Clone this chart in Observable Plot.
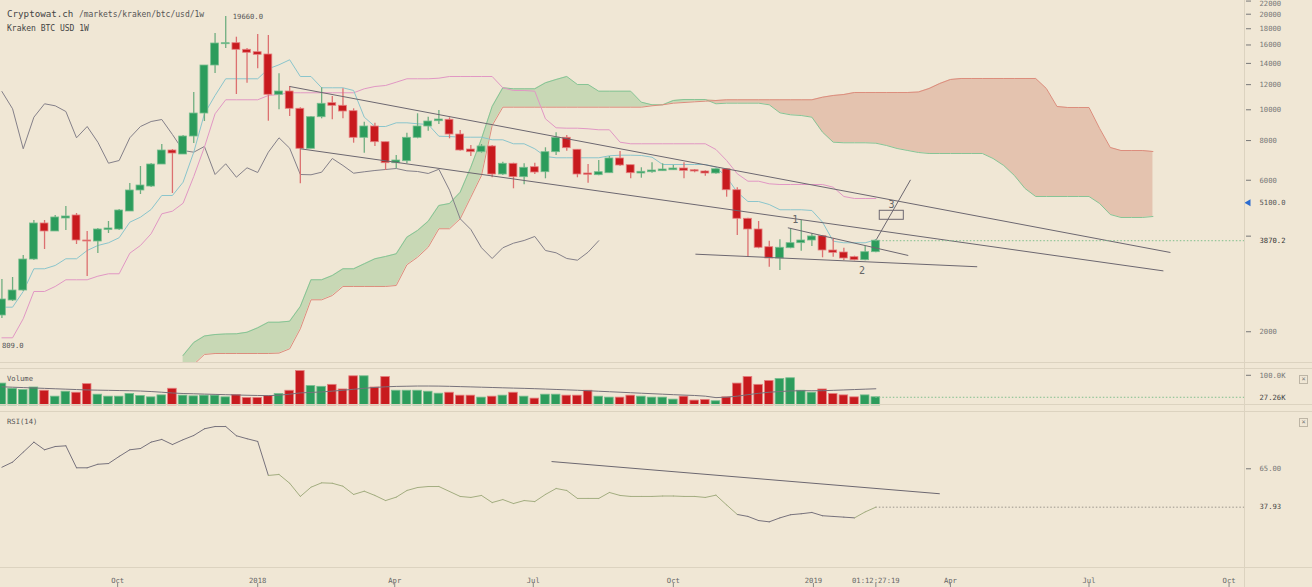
<!DOCTYPE html>
<html>
<head>
<meta charset="utf-8">
<script src="https://cdn.jsdelivr.net/npm/d3@7"></script>
<script src="https://cdn.jsdelivr.net/npm/@observablehq/plot@0.6"></script>
<style>
  html, body { margin: 0; padding: 0; background: #f0e7d5; }
  #chart { position: relative; width: 1312px; height: 587px; overflow: hidden; background: #f0e7d5;
           font-family: "DejaVu Sans Mono", "Liberation Mono", monospace; }
  #chart svg { position: absolute; left: 0; }
  .hl { position: absolute; left: 0; width: 1312px; height: 1px; background: #dcd3c0; }
  .vl { position: absolute; top: 0; left: 1244px; width: 1px; height: 587px; background: #dcd3c0; }
  .lbl { position: absolute; white-space: nowrap; color: #555; }
  .xbox { position: absolute; left: 1299px; width: 7px; height: 7px; border: 1px solid #bdb5a5;
          font-size: 7px; line-height: 7px; text-align: center; color: #777; }
</style>
</head>
<body>
<div id="chart">
  <div class="lbl" style="left:7px;top:8px;font-size:9.2px;color:#444;">Cryptowat.ch <span style="font-size:8px;color:#555;">/markets/kraken/btc/usd/1w</span></div>
  <div class="lbl" style="left:7px;top:24px;font-size:8px;color:#444;">Kraken BTC USD 1W</div>
  <div class="lbl" style="left:7px;top:374px;font-size:7.2px;">Volume</div>
  <div class="lbl" style="left:7px;top:417px;font-size:7.2px;">RSI(14)</div>
  <div class="xbox" style="top:375px;">×</div>
  <div class="xbox" style="top:418px;">×</div>
</div>
<script>
// ---------- data (Kraken BTC/USD, weekly candles) ----------
const firstWeek = "2017-07-17";
const open  = [2250,2509,2697,3377,4385,4138,4547,4647,3876,3848,4183,4198,4783,5570,5733,6725,7444,7231,8239,9734,13787,16092,16208,15451,15184,14933,11149,11419,10073,7537,9477,10491,10295,9898,8162,8859,7906,6789,6888,8162,8859,9206,9301,8359,7498,7353,7664,6255,6760,6134,6595,6360,7353,8162,7483,6301,6224,6314,7025,6691,6301,6360,6407,6451,6533,6451,6392,6301,6497,5581,4537,4198,3692,3402,3666,3801,3876,3999,3605,3553,3434,3360,3561];
const high  = [2921,2964,3477,4481,4481,4647,4960,4714,4138,4229,4449,4853,5859,6628,6774,7775,7498,8299,11337,13787,17389,19660,16929,15597,17263,17139,12983,11841,10147,9525,11730,11013,11645,10073,9140,9075,7906,7179,8438,9714,9477,9948,9436,8605,7719,7775,7719,6838,6789,6760,6789,7592,8463,8299,7483,6725,6923,7127,7390,6691,6567,6808,6760,6691,6808,6486,6425,6519,6519,5680,4557,4449,3856,3896,4220,4481,4070,4020,3925,3666,3459,3711,3896];
const low   = [2202,2491,2678,3353,3631,4138,4168,3765,2985,3527,4078,4168,4783,5411,5692,6725,5450,7231,7832,9186,13011,15597,11174,12127,13462,9206,10000,9525,5847,7537,9366,9301,9366,7849,7299,7664,6439,6519,6760,8103,8562,8989,8103,7406,7127,7299,6108,6210,5639,5805,6255,6063,7179,7406,6108,5872,6197,6314,6628,6063,6090,6314,6407,6451,6063,6332,6178,6269,5306,4020,3434,3650,3194,3118,3650,3587,3711,3419,3434,3353,3346,3346,3545];
const close = [2527,2697,3377,4385,4138,4580,4613,3876,3848,4198,4229,4818,5570,5775,6725,7444,7284,8239,9734,13787,16173,16208,15451,15118,14899,11149,11419,10073,7537,9477,10445,10295,9876,8162,8859,7906,6789,6923,8162,8859,9186,9320,8359,7444,7353,7664,6255,6760,6134,6567,6346,7353,8162,7570,6255,6242,6360,7025,6677,6314,6379,6439,6486,6533,6425,6392,6301,6497,5581,4537,4198,3677,3402,3677,3801,3876,3991,3605,3545,3402,3360,3561,3870.2];
const volumeK = [72.6,55.4,51.1,59.6,48.9,29.3,45.6,42.3,70.7,35.8,29.3,29.3,38.1,31.6,27.0,33.5,55.4,32.6,30.3,32.6,32.6,27.0,34.9,25.1,25.1,31.6,38.1,48.9,114,64.2,61.9,68.4,53.1,96.7,96.7,59.6,94.5,48.9,48.9,48.9,45.6,39.1,42.3,32.6,32.6,26.1,29.3,32.6,42.3,29.3,22.8,35.8,35.8,32.6,32.6,48.9,29.3,26.1,26.1,32.6,29.3,26.1,26.1,19.5,29.3,16.3,18.6,14.0,27.0,72.6,94.5,68.4,81.4,87.9,90.2,48.9,42.3,53.1,38.1,33.5,27.0,33.5,27.26];
const volumeMA = [61.9,60.6,59.3,58.0,56.7,55.4,54.1,52.8,51.5,50.8,50.2,49.5,48.9,47.9,46.2,44.0,41.4,39.7,38.8,37.8,36.8,35.8,34.9,33.9,33.2,32.6,34.2,37.5,41.7,43.3,44.9,47.6,50.5,53.7,57.0,59.9,61.9,63.2,63.8,64.5,64.5,64.2,63.5,62.5,61.6,60.6,59.6,58.6,57.6,56.7,55.7,54.4,53.1,51.8,50.5,48.9,47.2,45.6,44.0,42.3,40.7,39.1,37.5,35.8,34.5,33.2,30.9,26.1,27.7,30.9,35.8,40.4,44.0,46.2,48.2,48.9,48.9,48.9,50.2,51.5,52.8,54.1,55.4];
const tenkan = [2390,2390,2678,3157,3157,3234,3395,3395,3605,3738,3812,3954,4426,4590,4853,5372,5372,5915,7353,9714,11093,12521,12521,12521,12521,13462,13858,14371,12731,12731,11730,11730,11730,11502,9477,8859,8859,9100,9100,9035,8989,8256,8239,8197,8197,8197,8044,8044,7815,7815,7537,7127,7061,7061,7061,7061,7061,7164,7195,7195,7179,7091,6725,6725,6725,6725,6725,6595,6134,5502,5143,5143,5032,4843,4843,4843,4818,4426,3856,3812,3812,3812,3896];
const kijun = [1914,1914,2197,2678,2678,2777,2915,2915,2915,2992,3045,3045,3535,3738,4070,4704,4794,5079,6165,7625,9714,10753,10753,10753,10753,11093,11174,11312,11312,11312,11312,11312,11312,11312,11645,11841,11927,12216,12521,12521,12521,12576,12731,12731,12731,12731,12731,11730,11502,11502,11444,9366,8777,8751,8751,8713,8650,8650,7906,7815,7815,7815,7815,7815,7815,7815,7815,7498,6923,6287,5958,5958,5847,5817,5817,5817,5817,5817,5704,5333,5256,5256,5256];
// Senkou spans, plotted from week index 17 to 108 (shifted 26 weeks ahead)
const senkouStartWeek = 17;
const senkouA = [1684,1850,1939,1960,1968,1970,1993,2058,2143,2143,2159,2402,2915,2915,3007,3157,3157,3274,3395,3452,3520,3971,4168,4458,4996,5069,5502,6595,8103,10242,11730,11645,11645,11645,12162,12458,12731,12014,12014,11444,11444,11444,11444,10566,10369,10369,10697,10776,10776,10776,10445,10491,10491,10491,10491,10369,9783,9643,9594,9477,8500,7906,7872,7872,7872,7849,7719,7553,7444,7337,7284,7284,7284,7284,7284,7284,7025,6677,6210,5651,5333,5333,5333,5333,5333,5333,5069,4680,4580,4580,4580,4613];
const senkouB = [1425,1578,1696,1708,1708,1708,1708,1708,1708,1713,1767,2043,2521,2521,2601,2777,2777,2777,2777,2777,2797,3250,3434,3692,4220,4220,4537,5306,6210,8924,10190,10190,10190,10190,10190,10190,10190,10190,10190,10190,10190,10190,10190,10190,10295,10369,10491,10543,10597,10643,10697,10753,10753,10753,10753,10753,10753,10753,10753,10753,10957,11093,11174,11337,11337,11337,11337,11337,11337,11378,11671,12101,12458,12548,12548,12548,12548,12548,12548,12548,12548,11671,10242,10168,10168,10168,8732,7608,7444,7444,7444,7390];
const chikouShift = 26;
const rsi = [66.1,69.7,76.7,83.8,78.4,80.7,81.2,65.7,65.7,68.2,68.7,73.7,78.4,79.3,83.8,85.7,82.1,85.5,88.5,93.2,94.8,94.8,88.3,86.2,84.3,60.3,61.0,54.8,45.5,52.0,55.1,54.8,52.7,46.9,49.2,46.2,42.6,45.0,49.7,51.8,52.5,52.5,49.0,45.5,44.8,46.2,41.2,43.3,40.5,42.6,41.9,46.9,51.1,49.7,44.1,44.1,44.1,48.3,46.2,45.5,45.5,45.5,45.8,45.8,45.5,45.5,44.8,46.4,39.5,32.8,31.4,28.5,27.6,30.4,32.6,33.3,34.2,31.9,31.4,30.9,30.4,34.6,37.93];

// axis ticks and labels
const priceTicks = [2000,4000,6000,8000,10000,12000,14000,16000,18000,20000,22000];
const hiddenPriceLabels = [4000, 22000];
const topPriceLabel = 22000;
const timeTicks = [["2017-10-01","Oct"],["2018-01-01","2018"],["2018-04-01","Apr"],["2018-07-01","Jul"],["2018-10-01","Oct"],["2019-01-01","2019"],["2019-04-01","Apr"],["2019-07-01","Jul"],["2019-10-01","Oct"]];
const countdown = "01:12:27:19";
const athLabel = {price: 19660, text: "19660.0"};
const lowLabel = {price: 1809, text: "809.0"};
const alertPrice = 5100.0;
const lastPrice = 3870.2;
const lastVolumeK = 27.26;
const lastRsi = 37.93;

// drawn trendlines (date, price)
const trendLines = [
  {d1: "2018-01-22", p1: 11841, d2: "2019-08-23T12:00Z", p2: 3553},
  {d1: "2018-01-29", p1: 7537,  d2: "2019-08-18T21:00Z", p2: 3109},
  {d1: "2018-10-15T12:00Z", p1: 3510, d2: "2019-04-18T14:00Z", p2: 3204},
  {d1: "2018-12-15T05:00Z", p1: 4250, d2: "2019-03-04T07:00Z", p2: 3477},
  {d1: "2019-02-11T09:00Z", p1: 3904, d2: "2019-03-05T19:00Z", p2: 6018}
];
const targetBox = {d1: "2019-02-13T14:00Z", d2: "2019-03-01T09:00Z", p1: 4504, p2: 4808};
const waveLabels = [
  {d: "2018-12-20", p: 4504, t: "1"},
  {d: "2019-02-02", p: 3118, t: "2"},
  {d: "2019-02-21T07:00Z", p: 5021, t: "3"}
];
const rsiTrend = {d1: "2018-07-13", v1: 70.1, d2: "2019-03-25", v2: 47.4};

// ---------- build ----------
const W = 1312, MR = 67;
const FONT = '"DejaVu Sans Mono", "Liberation Mono", monospace';
const xDomain = [new Date("2017-07-16T01:40:00Z"), new Date("2019-10-11T19:12:00Z")];
const week0 = new Date(firstWeek + "T00:00:00Z");
const weekDate = i => d3.utcDay.offset(week0, 7 * i);
const D = s => new Date(s.length === 10 ? s + "T00:00:00Z" : s);

const candles = open.map((o, i) => ({
  date: weekDate(i), open: o, high: high[i], low: low[i], close: close[i],
  vol: volumeK[i], ma: volumeMA[i], rsi: rsi[i], up: close[i] >= o
}));
const ups = candles.filter(d => d.up), downs = candles.filter(d => !d.up);
const lastDate = candles[candles.length - 1].date;
const cloud = senkouA.map((a, k) => ({date: weekDate(senkouStartWeek + k), a, b: senkouB[k]}));
const chikou = close.slice(chikouShift).map((c, j) => ({date: weekDate(j), c}));

const GREEN = "#2c9c5c", GREEN_L = "#78bd8f", GREEN_W = "#6fae80";
const RED = "#c81a1e", RED_L = "#e57f7f", RED_W = "#dc7070";
const TREND = "#6c6770";

const hx = h => d => d3.utcHour.offset(d.date, h);
const style = {background: "transparent", fontFamily: FONT, fontSize: "7.2px", color: "#777", overflow: "visible"};
const xScale = {type: "utc", domain: xDomain, axis: null};

const chart = document.getElementById("chart");
function place(svg, top) { svg.style.top = top + "px"; chart.appendChild(svg); }

// price panel
const price = Plot.plot({
  width: W, height: 363, marginLeft: 0, marginRight: MR, marginTop: 0, marginBottom: 0,
  style, x: xScale,
  y: {type: "log", domain: [1588.6, 22090], axis: "right", ticks: priceTicks,
      tickFormat: d => hiddenPriceLabels.includes(d) ? "" : String(d), tickSize: 5, tickPadding: 9, label: null},
  marks: [
    Plot.areaY(cloud, {x: "date", y1: "b", y2: d => Math.max(d.a, d.b), fill: "#c8d8b5", clip: true}),
    Plot.areaY(cloud, {x: "date", y1: "a", y2: d => Math.max(d.a, d.b), fill: "#e4c3af", clip: true}),
    Plot.line(cloud, {x: "date", y: "a", stroke: "#86c495", strokeWidth: 1, clip: true}),
    Plot.line(cloud, {x: "date", y: "b", stroke: "#dc8d7d", strokeWidth: 1, clip: true}),
    Plot.line(chikou, {x: "date", y: "c", stroke: "#848089", strokeWidth: 1}),
    Plot.line(candles, {x: "date", y: (d, i) => kijun[i], stroke: "#e197c4", strokeWidth: 1}),
    Plot.line(candles, {x: "date", y: (d, i) => tenkan[i], stroke: "#8ac5cc", strokeWidth: 1}),
    Plot.ruleX(ups, {x: "date", y1: "low", y2: "high", stroke: GREEN_W, strokeWidth: 1.3}),
    Plot.ruleX(downs, {x: "date", y1: "low", y2: "high", stroke: RED_W, strokeWidth: 1.3}),
    Plot.rect(ups, {x1: hx(-62), x2: hx(62), y1: "open", y2: "close", fill: GREEN, stroke: GREEN_L, strokeWidth: 0.8}),
    Plot.rect(downs, {x1: hx(-62), x2: hx(62), y1: "open", y2: "close", fill: RED, stroke: RED_L, strokeWidth: 0.8}),
    Plot.link(trendLines, {x1: d => D(d.d1), y1: "p1", x2: d => D(d.d2), y2: "p2", stroke: TREND, strokeWidth: 1}),
    Plot.rect([targetBox], {x1: d => D(d.d1), x2: d => D(d.d2), y1: "p1", y2: "p2", fill: "none", stroke: TREND, strokeWidth: 1}),
    Plot.text(waveLabels, {x: d => D(d.d), y: "p", text: "t", fill: "#666", fontSize: 10}),
    Plot.ruleY([lastPrice], {x1: lastDate, x2: xDomain[1], y: d => d, stroke: "#7fbe8c", strokeDasharray: "1.5,2"}),
    Plot.text([athLabel], {x: () => candles[21].date, y: "price", text: "text", dx: 7, textAnchor: "start", fill: "#555"}),
    Plot.text([lowLabel], {x: () => candles[0].date, y: "price", text: "text", textAnchor: "start", fill: "#555"}),
    Plot.text([topPriceLabel], {y: d => d, text: d => String(d), frameAnchor: "right", dx: 14, textAnchor: "start", lineAnchor: "top", dy: -0.5, fill: "#777"}),
    Plot.text([alertPrice], {y: d => d, text: d => d.toFixed(1), frameAnchor: "right", dx: 14, textAnchor: "start", fill: "#555"}),
    Plot.dot([alertPrice], {y: d => d, frameAnchor: "right", dx: 3, symbol: "triangle", r: 2.6, rotate: -90, fill: "#2c6cd0"}),
    Plot.text([lastPrice], {y: d => d, text: d => d.toFixed(1), frameAnchor: "right", dx: 14, textAnchor: "start", fill: "#333", stroke: "#f0e7d5", strokeWidth: 3, paintOrder: "stroke"}),
    Plot.ruleY([lastPrice], {y: d => d, x1: xDomain[1], x2: xDomain[1], stroke: "#5fae6e"})
  ]
});
place(price, 0);

// volume panel
const vol = Plot.plot({
  width: W, height: 37, marginLeft: 0, marginRight: MR, marginTop: 0, marginBottom: 0,
  style, x: xScale,
  y: {domain: [0, 122.5], axis: "right", ticks: [100], tickFormat: d => d.toFixed(1) + "K", tickSize: 5, tickPadding: 9, label: null},
  marks: [
    Plot.rectY(ups, {x1: hx(-68), x2: hx(68), y: "vol", fill: GREEN, stroke: GREEN_L, strokeWidth: 0.8}),
    Plot.rectY(downs, {x1: hx(-68), x2: hx(68), y: "vol", fill: RED, stroke: RED_L, strokeWidth: 0.8}),
    Plot.line(candles, {x: "date", y: "ma", stroke: "#77727b", strokeWidth: 1}),
    Plot.ruleY([lastVolumeK], {x1: lastDate, x2: xDomain[1], y: d => d, stroke: "#7fbe8c", strokeDasharray: "1.5,2"}),
    Plot.text([lastVolumeK], {y: d => d, text: d => d.toFixed(2) + "K", frameAnchor: "right", dx: 14, textAnchor: "start", fill: "#444"})
  ]
});
place(vol, 368);

// RSI panel
const segs = [];
for (let i = 0; i < rsi.length - 1; i++) {
  const m = Math.max(rsi[i], rsi[i + 1]);
  const tone = (m >= 62 || m <= 34.4) ? "gray" : "olive";
  segs.push({seg: i, tone, date: candles[i].date, v: rsi[i]}, {seg: i, tone, date: candles[i + 1].date, v: rsi[i + 1]});
}
const rsiPlot = Plot.plot({
  width: W, height: 156, marginLeft: 0, marginRight: MR, marginTop: 0, marginBottom: 0,
  style, x: xScale,
  y: {domain: [-4.6, 105.4], axis: "right", ticks: [65], tickFormat: d => d.toFixed(2), tickSize: 5, tickPadding: 9, label: null},
  marks: [
    Plot.ruleY([lastRsi], {x1: lastDate, x2: xDomain[1], y: d => d, stroke: "#9a958c", strokeDasharray: "1.5,2"}),
    Plot.line(segs.filter(d => d.tone === "gray"), {x: "date", y: "v", z: "seg", stroke: "#77727c", strokeWidth: 1}),
    Plot.line(segs.filter(d => d.tone === "olive"), {x: "date", y: "v", z: "seg", stroke: "#a3ad80", strokeWidth: 1}),
    Plot.link([rsiTrend], {x1: d => D(d.d1), y1: "v1", x2: d => D(d.d2), y2: "v2", stroke: TREND, strokeWidth: 1}),
    Plot.text([lastRsi], {y: d => d, text: d => d.toFixed(2), frameAnchor: "right", dx: 14, textAnchor: "start", fill: "#444"})
  ]
});
place(rsiPlot, 411);

// time axis strip
const tt = timeTicks.map(([d, label]) => ({date: D(d), label}));
tt.push({date: lastDate, label: countdown});
const axisPlot = Plot.plot({
  width: W, height: 20, marginLeft: 0, marginRight: MR, marginTop: 16, marginBottom: 0,
  style, x: xScale, y: {domain: [0, 1], axis: null},
  marks: [
    Plot.ruleX(tt, {x: "date", stroke: "#888"}),
    Plot.text(tt, {x: "date", text: "label", frameAnchor: "top", dy: -6, fill: "#666"})
  ]
});
place(axisPlot, 567);

// separators
[362, 368, 404, 411, 567].forEach(y => {
  const l = document.createElement("div"); l.className = "hl"; l.style.top = y + "px"; chart.appendChild(l);
});
const v = document.createElement("div"); v.className = "vl"; chart.appendChild(v);
</script>
</body>
</html>
